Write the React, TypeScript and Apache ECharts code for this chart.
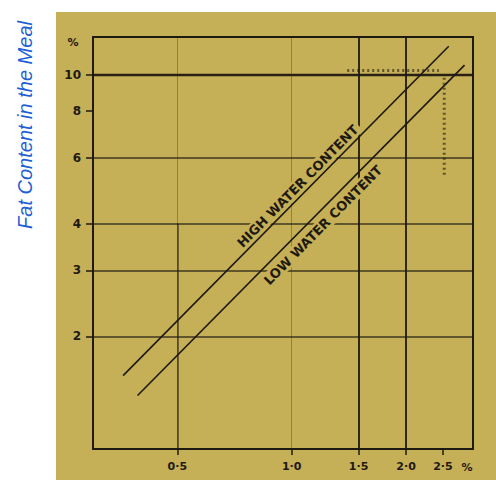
import React, { useEffect, useRef } from "react";
import * as echarts from "echarts";

const xTickValues = [0.5, 1.0, 1.5, 2.0, 2.5];
const xTickLabels = ["0·5", "1·0", "1·5", "2·0", "2·5"];
const yTickValues = [2, 3, 4, 6, 8, 10];
const yTickLabels = ["2", "3", "4", "6", "8", "10"];
const xRange = [0.3, 3.0];
const yRange = [1, 12.6];

const highWater = [
  [0.36, 1.57],
  [2.59, 11.9],
];
const lowWater = [
  [0.393, 1.39],
  [2.85, 10.6],
];
const hatchTop = [
  [1.4, 10.25],
  [2.44, 10.25],
];
const hatchSide = [
  [2.52, 9.8],
  [2.52, 5.4],
];
const darkGridX = [1.5, 2.0];
const faintGridX = [0.5, 1.0];
const gridY = [10, 6, 4, 3, 2];

const seriesNames = ["HIGH WATER CONTENT", "LOW WATER CONTENT"];
const yTitle = "Fat Content in the Meal";
const unitLabel = "%";

function pick(values: number[], labels: string[], v: number) {
  let best = 0;
  for (let i = 0; i < values.length; i++) {
    if (Math.abs(values[i] - v) < Math.abs(values[best] - v)) best = i;
  }
  return Math.abs(values[best] - v) < 1e-3 * values[best] ? labels[best] : "";
}

export default function App() {
  const ref = useRef<HTMLDivElement>(null);
  useEffect(() => {
    document.body.style.margin = "0";
    const chart = echarts.init(ref.current!, null, { renderer: "svg" });
    const dark = "#1e1911";
    const bg = "#c5af57";
    const labelFont = {
      color: dark,
      fontFamily: "DejaVu Sans",
      fontWeight: "bold" as const,
      fontSize: 11,
    };
    const option: any = {
      animation: false,
      backgroundColor: "#ffffff",
      grid: {
        left: 93,
        right: 23,
        top: 37,
        bottom: 31,
        show: true,
        borderColor: dark,
        borderWidth: 2,
        backgroundColor: "transparent",
      },
      xAxis: {
        type: "log",
        logBase: 10,
        min: xRange[0],
        max: xRange[1],
        axisLine: { show: false },
        splitLine: { show: false },
        minorTick: { show: false },
        minorSplitLine: { show: false },
        axisTick: {
          show: true,
          customValues: xTickValues,
          length: 6,
          lineStyle: { color: dark, width: 1.5 },
        },
        axisLabel: {
          customValues: xTickValues,
          formatter: (v: number) => pick(xTickValues, xTickLabels, v),
          margin: 12,
          ...labelFont,
        },
      },
      yAxis: {
        type: "log",
        logBase: 10,
        min: yRange[0],
        max: yRange[1],
        axisLine: { show: false },
        splitLine: { show: false },
        minorTick: { show: false },
        minorSplitLine: { show: false },
        axisTick: {
          show: true,
          customValues: yTickValues,
          length: 7,
          lineStyle: { color: dark, width: 1.5 },
        },
        axisLabel: {
          customValues: yTickValues,
          formatter: (v: number) => pick(yTickValues, yTickLabels, v),
          margin: 12,
          ...labelFont,
          fontSize: 12,
        },
      },
      series: [
        {
          type: "line",
          name: seriesNames[0],
          data: highWater,
          symbol: "none",
          lineStyle: { color: dark, width: 1.6 },
          z: 5,
          markLine: {
            silent: true,
            symbol: "none",
            label: { show: false },
            data: [
              ...darkGridX.map((v) => ({
                xAxis: v,
                lineStyle: { color: dark, width: 2, type: "solid", opacity: 0.9 },
              })),
              ...faintGridX.map((v) => ({
                xAxis: v,
                lineStyle: { color: dark, width: 1, type: "solid", opacity: 0.3 },
              })),
              [
                { coord: [faintGridX[0], gridY[2]], lineStyle: { color: dark, width: 1.5, type: "solid", opacity: 0.7 } },
                { coord: [faintGridX[0], yRange[0]] },
              ],
              ...gridY.map((v, i) => ({
                yAxis: v,
                lineStyle: {
                  color: dark,
                  width: i === 0 ? 2.4 : 1.6,
                  type: "solid",
                  opacity: i === 0 ? 0.95 : 0.8,
                },
              })),
            ],
          },
        },
        {
          type: "line",
          name: seriesNames[1],
          data: lowWater,
          symbol: "none",
          lineStyle: { color: dark, width: 1.6 },
          z: 5,
        },
        {
          type: "line",
          data: hatchTop,
          symbol: "none",
          lineStyle: { color: dark, width: 3, type: [2, 3], opacity: 0.6 },
        },
        {
          type: "line",
          data: hatchSide,
          symbol: "none",
          lineStyle: { color: dark, width: 3, type: [2, 3], opacity: 0.6 },
        },
      ],
    };
    chart.setOption(option);

    const toPx = (p: number[]) =>
      chart.convertToPixel({ xAxisIndex: 0, yAxisIndex: 0 }, p) as number[];
    const lineLabel = (pts: number[][], frac: number, offset: number, text: string, id: string) => {
      const a = toPx(pts[0]);
      const b = toPx(pts[1]);
      const dx = b[0] - a[0];
      const dy = b[1] - a[1];
      const len = Math.hypot(dx, dy);
      const nx = dy / len;
      const ny = -dx / len;
      const cx = a[0] + dx * frac + nx * offset;
      const cy = a[1] + dy * frac + ny * offset;
      return {
        id,
        type: "text",
        x: cx,
        y: cy,
        rotation: Math.atan2(-dy, dx),
        z: 50,
        style: {
          text,
          align: "center",
          verticalAlign: "middle",
          fill: dark,
          font: "bold 13px 'DejaVu Sans'",
          backgroundColor: bg,
          padding: [1, 3],
        },
      };
    };

    chart.setOption({
      graphic: [
        {
          id: "bg",
          type: "rect",
          z: -100,
          shape: { x: 56, y: 12, width: 440, height: 468 },
          style: { fill: bg },
        },
        {
          id: "title",
          type: "text",
          x: 25,
          y: 125,
          rotation: Math.PI / 2,
          style: {
            text: yTitle,
            align: "center",
            verticalAlign: "middle",
            fill: "#1f5fd3",
            font: "italic 20px 'Liberation Sans'",
          },
        },
        {
          id: "ypct",
          type: "text",
          x: 73,
          y: 42,
          style: { text: unitLabel, align: "center", verticalAlign: "middle", fill: dark, font: "bold 11px 'DejaVu Sans'" },
        },
        {
          id: "xpct",
          type: "text",
          x: 467,
          y: 467,
          style: { text: unitLabel, align: "center", verticalAlign: "middle", fill: dark, font: "bold 11px 'DejaVu Sans'" },
        },
        lineLabel(highWater, 0.556, 9, seriesNames[0], "lblHigh"),
        lineLabel(lowWater, 0.541, -12, seriesNames[1], "lblLow"),
      ],
    });
    return () => chart.dispose();
  }, []);
  return <div ref={ref} style={{ width: 496, height: 480 }} />;
}
